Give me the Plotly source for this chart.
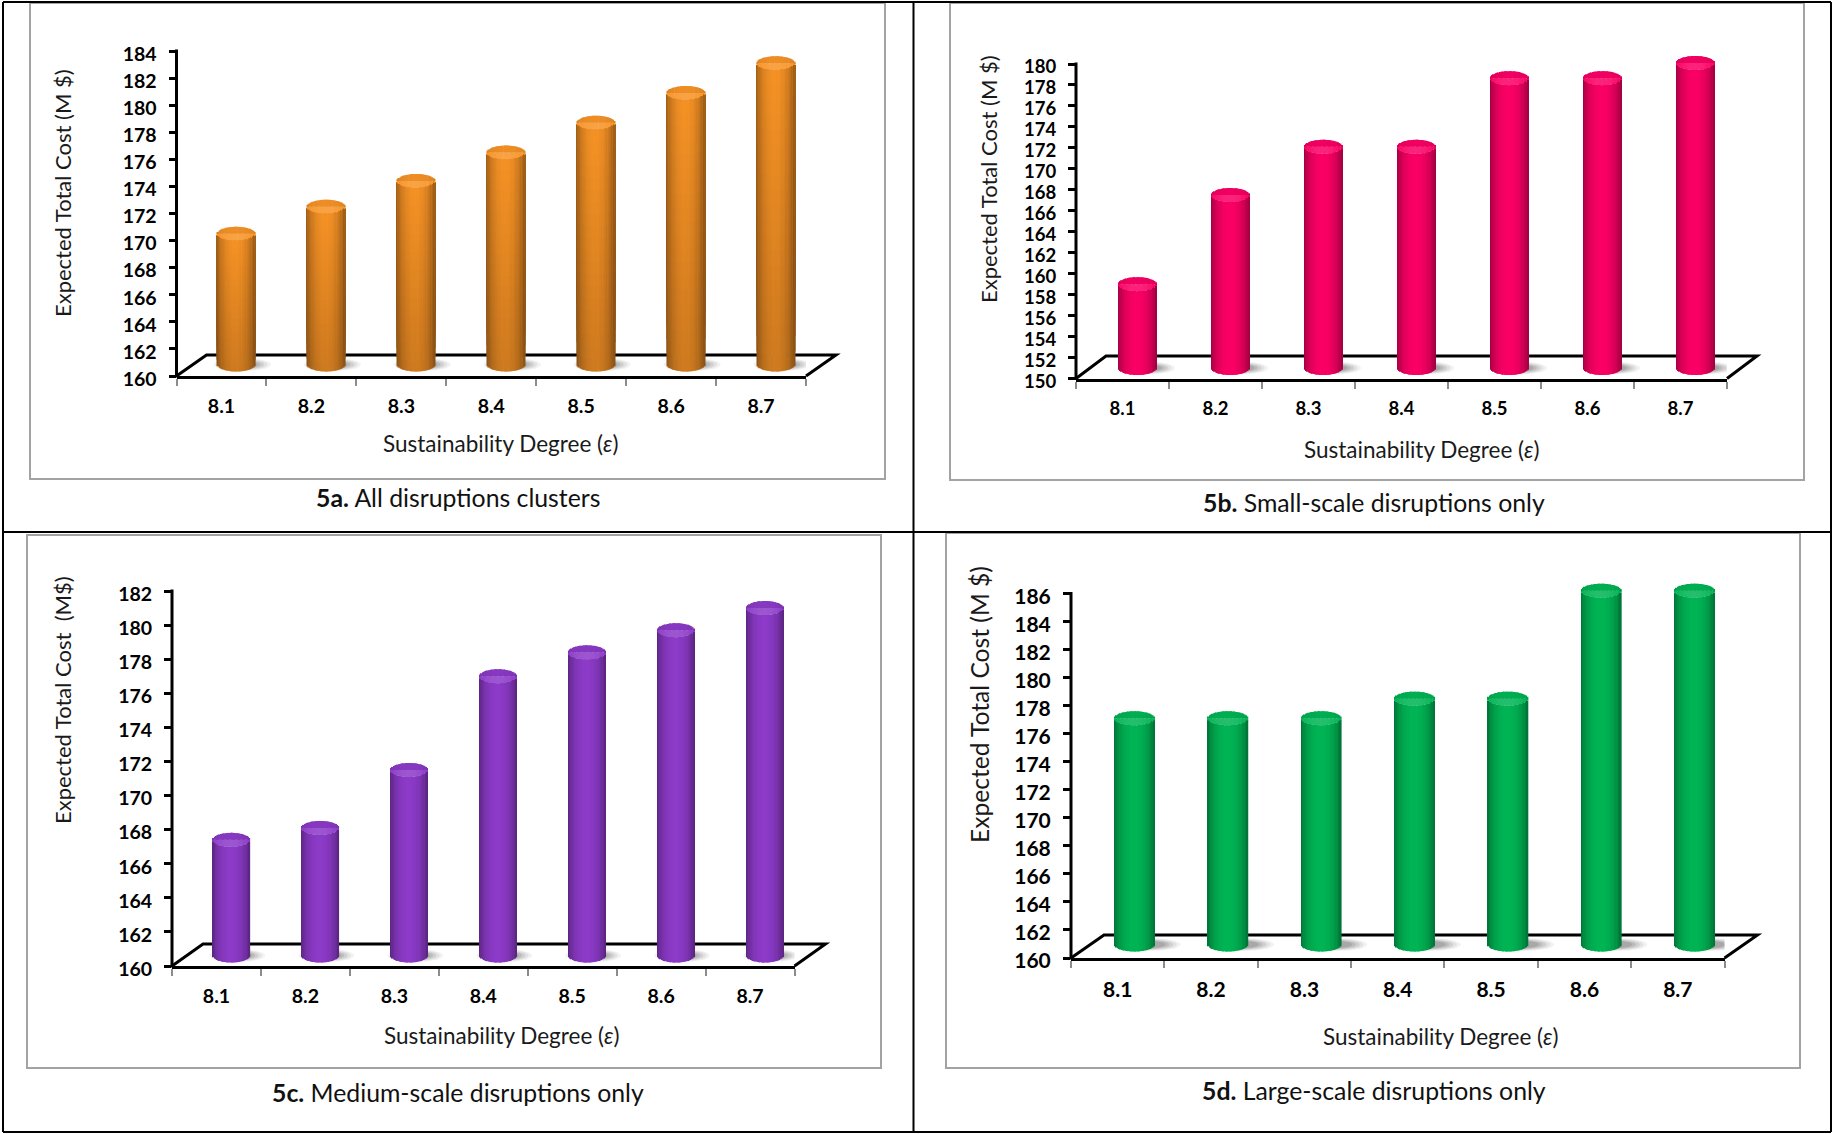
import math
import plotly.graph_objects as go

PAGE_W, PAGE_H = 1832, 1134
FONT = "Lato"

# Sustainability degree categories shared by all four panels
epsilon_labels = ["8.1", "8.2", "8.3", "8.4", "8.5", "8.6", "8.7"]

# Expected total cost in M$ for each disruption scenario
cost_all = [170.5, 172.5, 174.4, 176.5, 178.7, 180.9, 183.1]
cost_small = [159.0, 167.5, 172.1, 172.1, 178.65, 178.65, 180.1]
cost_medium = [167.4, 168.1, 171.5, 177.0, 178.4, 179.7, 181.0]
cost_large = [177.1, 177.1, 177.1, 178.5, 178.5, 186.2, 186.2]

panels = [
    dict(values=cost_all, ymin=160, ymax=184, mid=(247, 147, 38), fade=0.16,
         ax=176.5, ax_end=806, y0=376, y1=51, floor_dx=30, floor_y=355,
         bar_w=38, bar_off=15, floor_base=11.5, shadow=(6, 1.5), tick=19.5,
         ytitle="Expected Total Cost (M $)", ytitle_xy=(63, 193), ytitle_size=22,
         xtitle_xy=(501, 443), caption="<b>5a.</b> All disruptions clusters", caption_xy=(458, 498),
         frame=(30, 3, 885, 479)),
    dict(values=cost_small, ymin=150, ymax=180, mid=(250, 0, 100), fade=0,
         ax=1076, ax_end=1727, y0=378.5, y1=64, floor_dx=30, floor_y=356,
         bar_w=38, bar_off=15, floor_base=10.5, shadow=(9, 1.5), tick=18.5,
         ytitle="Expected Total Cost (M $)", ytitle_xy=(988, 179), ytitle_size=22,
         xtitle_xy=(1422, 450), caption="<b>5b.</b> Small-scale disruptions only", caption_xy=(1374, 502),
         frame=(950, 3, 1804, 480)),
    dict(values=cost_medium, ymin=160, ymax=182, mid=(140, 58, 200), fade=0,
         ax=172, ax_end=794.5, y0=966, y1=591, floor_dx=31, floor_y=944,
         bar_w=37, bar_off=15, floor_base=10.5, shadow=(6, 1.5), tick=19.5,
         ytitle="Expected Total Cost  (M$)", ytitle_xy=(62, 700), ytitle_size=22,
         xtitle_xy=(502, 1035), caption="<b>5c.</b> Medium-scale disruptions only", caption_xy=(458, 1092),
         frame=(27, 535, 881, 1068)),
    dict(values=cost_large, ymin=160, ymax=186, mid=(0, 180, 84), fade=0,
         ax=1071, ax_end=1724.5, y0=958, y1=593.5, floor_dx=33, floor_y=935,
         bar_w=40, bar_off=17, floor_base=13.5, shadow=(14, 1.6), tick=21,
         ytitle="Expected Total Cost (M $)", ytitle_xy=(979, 705), ytitle_size=24.6,
         xtitle_xy=(1441, 1036), caption="<b>5d.</b> Large-scale disruptions only", caption_xy=(1374, 1090),
         frame=(946, 533, 1800, 1068)),
]

STRIPS = 30
FADE_STEPS = 20
CAP_PX = 7
HEADROOM_PX = 14  # room above the top tick so the tallest caps stay visible


def px(x):
    return x / PAGE_W


def py(y):
    return 1 - y / PAGE_H


def shade(rgb, k):
    """Scale a colour towards black (k < 1) or white (k > 1)."""
    if k <= 1:
        c = [v * k for v in rgb]
    else:
        c = [v + (255 - v) * (k - 1) for v in rgb]
    return "rgb({},{},{})".format(*[int(round(v)) for v in c])


def cylinder_light(u):
    """Brightness across the cylinder, u running from -1 (left) to 1 (right)."""
    return 0.58 + 0.42 * math.cos(min(abs(u), 1) * math.pi / 2) ** 0.55


fig = go.Figure()
shapes, annotations = [], []

for i, p in enumerate(panels, start=1):
    xname, yname = ("x", "y") if i == 1 else (f"x{i}", f"y{i}")
    n = len(epsilon_labels)
    spacing = (p["ax_end"] - p["ax"]) / n
    unit = (p["y0"] - p["y1"]) / (p["ymax"] - p["ymin"])
    cap = CAP_PX / unit
    base = p["ymin"] + p["floor_base"] / unit
    centers = [k + 0.5 + p["bar_off"] / spacing for k in range(n)]
    half_w = p["bar_w"] / 2 / spacing
    strip_w = 2 * half_w / STRIPS
    vals = p["values"]

    def add_strip(xs, bottoms, tops, color):
        fig.add_bar(x=xs, base=bottoms, y=[t - b for t, b in zip(tops, bottoms)],
                    width=strip_w * 1.3, xaxis=xname, yaxis=yname, cliponaxis=False,
                    marker=dict(color=color, line=dict(width=0)),
                    showlegend=False, hoverinfo="skip")

    # Soft contact shadows on the floor, underneath the cylinders
    dx, stretch = p["shadow"]
    for grow, alpha in ((1.0, 0.07), (0.88, 0.09), (0.76, 0.12), (0.64, 0.14), (0.52, 0.16)):
        for c in centers:
            rx = half_w * stretch * grow
            ry = 6.5 * grow / unit
            cx = c + dx / spacing
            shapes.append(dict(type="circle", xref=xname, yref=yname, layer="below",
                               x0=cx - rx, x1=cx + rx, y0=base - ry, y1=base + ry,
                               fillcolor=f"rgba(70,70,70,{alpha})", line=dict(width=0)))

    # Cylinder bodies and caps are built from narrow vertical strips
    for j in range(STRIPS):
        u = -1 + (j + 0.5) * 2 / STRIPS
        arc = math.sqrt(max(1 - u * u, 0))
        light = cylinder_light(u)
        xs = [c + u * half_w for c in centers]
        body_bottom = [base - cap * arc] * n
        body_top = [v - cap * arc for v in vals]
        add_strip(xs, body_bottom, body_top, shade(p["mid"], light * (1 - p["fade"])))
        if p["fade"]:
            # Body darkens gently towards the floor; each step is laid over
            # the one below it, running from its own level up to the cap
            for s in range(1, FADE_STEPS):
                lo = [b + (t - b) * s / FADE_STEPS for b, t in zip(body_bottom, body_top)]
                k = light * (1 - p["fade"] * (1 - s / FADE_STEPS))
                add_strip(xs, lo, body_top, shade(p["mid"], k))
        # Rear half of the cap reads darker, front half picks up the highlight
        add_strip(xs, body_top, vals, shade(p["mid"], 1.0 + 0.14 * arc ** 2))
        add_strip(xs, vals, [v + cap * arc for v in vals], shade(p["mid"], 0.86 + 0.1 * arc))

    # Axes placed on the page by their pixel extents; the y axis carries some
    # headroom above its last tick, so its spine is drawn separately below
    xkey = "xaxis" if i == 1 else f"xaxis{i}"
    ykey = "yaxis" if i == 1 else f"yaxis{i}"
    y_ticks = list(range(p["ymin"], p["ymax"] + 1, 2))
    fig.update_layout({
        xkey: dict(domain=[px(p["ax"]), px(p["ax_end"])], range=[0, n], anchor=yname, automargin=False,
                   tickmode="array", tickvals=[k + 0.5 for k in range(n)], ticktext=epsilon_labels,
                   ticks="", ticklabelstandoff=11, showgrid=False, zeroline=False,
                   showline=True, linecolor="black", linewidth=3,
                   tickfont=dict(family=FONT, size=p["tick"], color="black", weight="bold"),
                   minor=dict(tickmode="array", tickvals=list(range(n + 1)), ticks="outside",
                              ticklen=7, tickwidth=2, tickcolor="#8c8c8c", showgrid=False)),
        ykey: dict(domain=[py(p["y0"]), py(p["y1"] - HEADROOM_PX)],
                   range=[p["ymin"], p["ymax"] + HEADROOM_PX / unit], anchor=xname, automargin=False,
                   tickmode="array", tickvals=y_ticks, ticktext=[str(t) for t in y_ticks],
                   ticks="outside", ticklen=7, tickwidth=3, tickcolor="black",
                   ticklabelstandoff=8, ticklabelshift=3, showgrid=False, zeroline=False, showline=False,
                   tickfont=dict(family=FONT, size=p["tick"], color="black", weight="bold")),
    })

    # Vertical axis spine from the first to the last tick
    shapes.append(dict(type="line", xref="paper", yref="paper", layer="above",
                       x0=px(p["ax"]), x1=px(p["ax"]), y0=py(p["y0"] + 1.5), y1=py(p["y1"] - 1.5),
                       line=dict(color="black", width=3)))

    # Receding floor outline
    d = p["floor_dx"]
    path = (f"M {px(p['ax'])},{py(p['y0'])} L {px(p['ax'] + d)},{py(p['floor_y'])} "
            f"L {px(p['ax_end'] + d)},{py(p['floor_y'])} L {px(p['ax_end'])},{py(p['y0'])}")
    shapes.append(dict(type="path", xref="paper", yref="paper", layer="below", path=path,
                       line=dict(color="black", width=3)))

    # Grey frame around the chart
    fx0, fy0, fx1, fy1 = p["frame"]
    shapes.append(dict(type="rect", xref="paper", yref="paper", layer="below",
                       x0=px(fx0), x1=px(fx1), y0=py(fy1), y1=py(fy0),
                       line=dict(color="#a3a3a3", width=2)))

    annotations.append(dict(text=p["ytitle"], x=px(p["ytitle_xy"][0]), y=py(p["ytitle_xy"][1]),
                            textangle=-90, font=dict(family=FONT, size=p["ytitle_size"], color="#1a1a1a")))
    annotations.append(dict(text="Sustainability Degree (<i>ε</i>)",
                            x=px(p["xtitle_xy"][0]), y=py(p["xtitle_xy"][1]),
                            font=dict(family=FONT, size=22.5, color="#1a1a1a")))
    annotations.append(dict(text=p["caption"], x=px(p["caption_xy"][0]), y=py(p["caption_xy"][1]),
                            font=dict(family=FONT, size=24.8, color="#111111")))

# Black table rules separating the four cells
for x0, y0, x1, y1 in [(3, 2, 1831, 2), (3, 2, 3, 1132), (3, 1132, 1831, 1132), (1831, 2, 1831, 1132),
                       (913.5, 2, 913.5, 1132), (3, 532, 1831, 532)]:
    shapes.append(dict(type="line", xref="paper", yref="paper", layer="below",
                       x0=px(x0), x1=px(x1), y0=py(y0), y1=py(y1),
                       line=dict(color="black", width=2)))

for a in annotations:
    a.update(xref="paper", yref="paper", showarrow=False, xanchor="center", yanchor="middle")

fig.update_layout(width=PAGE_W, height=PAGE_H, margin=dict(l=0, r=0, t=0, b=0),
                  paper_bgcolor="white", plot_bgcolor="rgba(0,0,0,0)", barmode="overlay",
                  showlegend=False, shapes=shapes, annotations=annotations,
                  font=dict(family=FONT))
fig.write_html("out.html", config=dict(displayModeBar=False))
